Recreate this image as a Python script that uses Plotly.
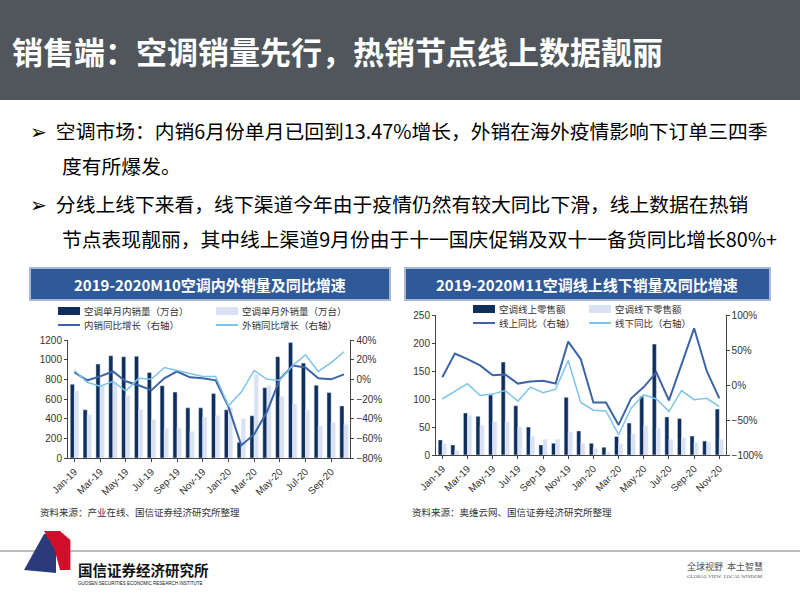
import plotly.graph_objects as go

months_l = ['Jan-19', 'Feb-19', 'Mar-19', 'Apr-19', 'May-19', 'Jun-19', 'Jul-19', 'Aug-19', 'Sep-19', 'Oct-19', 'Nov-19', 'Dec-19',
            'Jan-20', 'Feb-20', 'Mar-20', 'Apr-20', 'May-20', 'Jun-20', 'Jul-20', 'Aug-20', 'Sep-20', 'Oct-20']
dom_sales = [750, 490, 955, 1040, 1030, 1035, 870, 735, 670, 510, 510, 655, 490, 160, 430, 715, 1030, 1175, 965, 740, 665, 530]
exp_sales = [680, 440, 740, 760, 635, 490, 390, 300, 305, 270, 415, 430, 510, 400, 850, 735, 625, 550, 485, 325, 360, 340]
dom_yoy = [7, -1, 3, 8, -2, -6, -11, 1, 8, 2, 1, -1, -28, -67, -56, -33, 0, 14, 12, 1, 0, 5]
exp_yoy = [9, -3, -7, -2, -12, 1, 0, 12, 9, 6, 3, 3, -27, -13, 9, 0, -1, 14, 25, 8, 17, 28]

months_r = months_l + ['Nov-20']
online = [27, 18, 75, 69, 107, 166, 88, 50, 18, 21, 103, 43, 21, 14, 33, 57, 105, 198, 68, 65, 34, 25, 82]
offline = [20, 8, 70, 53, 59, 59, 50, 33, 28, 28, 41, 21, 12, 5, 20, 37, 52, 48, 28, 31, 22, 23, 28]
online_yoy = [11, 45, 37, 28, 14, 15, 2, 5, 6, 2, 62, 37, -25, -25, -57, -19, -3, 18, -22, 30, 81, 20, -19]
offline_yoy = [-20, -9, 2, -15, -13, -8, -23, -3, -11, -6, 35, -25, -36, -37, -71, -33, -14, -20, -38, -8, -21, -19, -31]

legend_l = ['空调单月内销量（万台）', '空调单月外销量（万台）', '内销同比增长（右轴）', '外销同比增长（右轴）']
legend_r = ['空调线上零售额', '空调线下零售额', '线上同比（右轴）', '线下同比（右轴）']

FONT = 'Noto Sans CJK SC'
DARK = '#0E2E5C'
LIGHT = '#D9E1F2'
LINE1 = '#3C64A8'
LINE2 = '#7CC4E8'

fig = go.Figure()
fig.add_trace(go.Bar(x=months_l, y=dom_sales, marker_color=DARK, xaxis='x', yaxis='y'))
fig.add_trace(go.Bar(x=months_l, y=exp_sales, marker_color=LIGHT, xaxis='x', yaxis='y'))
fig.add_trace(go.Scatter(x=months_l, y=dom_yoy, mode='lines', line=dict(color=LINE1, width=2), xaxis='x', yaxis='y2'))
fig.add_trace(go.Scatter(x=months_l, y=exp_yoy, mode='lines', line=dict(color=LINE2, width=1.5), xaxis='x', yaxis='y2'))
fig.add_trace(go.Bar(x=months_r, y=online, marker_color=DARK, xaxis='x2', yaxis='y3'))
fig.add_trace(go.Bar(x=months_r, y=offline, marker_color=LIGHT, xaxis='x2', yaxis='y3'))
fig.add_trace(go.Scatter(x=months_r, y=online_yoy, mode='lines', line=dict(color=LINE1, width=2), xaxis='x2', yaxis='y4'))
fig.add_trace(go.Scatter(x=months_r, y=offline_yoy, mode='lines', line=dict(color=LINE2, width=1.5), xaxis='x2', yaxis='y4'))

tick = dict(size=10, color='#333', family='Liberation Sans')
xcommon = dict(type='category', tickangle=-45, tickfont=tick, showline=True, linecolor='#444', ticks='outside', ticklen=3, dtick=2, showgrid=False)
ycommon = dict(tickfont=tick, showline=True, linecolor='#444', ticks='outside', ticklen=3, showgrid=False, zeroline=False)

fig.update_layout(
    width=800, height=600, margin=dict(l=0, r=0, t=0, b=0, autoexpand=False),
    paper_bgcolor='white', plot_bgcolor='white', barmode='group', bargap=0.35, bargroupgap=0,
    font=dict(family=FONT), showlegend=False,
    xaxis=dict(domain=[0.085, 0.438], anchor='y', **xcommon),
    yaxis=dict(domain=[1 - 458 / 600, 1 - 340 / 600], anchor='x', range=[0, 1200], dtick=200, **ycommon),
    yaxis2=dict(overlaying='y', side='right', anchor='x', range=[-80, 40], dtick=20, ticksuffix='%', **ycommon),
    xaxis2=dict(domain=[0.545, 0.907], anchor='y3', **xcommon),
    yaxis3=dict(domain=[1 - 455 / 600, 1 - 315 / 600], anchor='x2', range=[0, 250], dtick=50, **ycommon),
    yaxis4=dict(overlaying='y3', side='right', anchor='x2', range=[-100, 100], dtick=50, ticksuffix='%', **ycommon),
)

shapes = [
    dict(type='rect', xref='paper', yref='paper', x0=0, x1=1, y0=1 - 100 / 600, y1=1, fillcolor='#50565C', line_width=0),
    dict(type='rect', xref='paper', yref='paper', x0=30 / 800, x1=390 / 800, y0=1 - 300 / 600, y1=1 - 268 / 600,
         fillcolor='#2F5A9A', line=dict(color='#A9B8D0', width=2)),
    dict(type='rect', xref='paper', yref='paper', x0=405 / 800, x1=770 / 800, y0=1 - 300 / 600, y1=1 - 268 / 600,
         fillcolor='#2F5A9A', line=dict(color='#A9B8D0', width=2)),
    dict(type='line', xref='paper', yref='paper', x0=0, x1=1, y0=1 - 551 / 600, y1=1 - 551 / 600, line=dict(color='#BBBBBB', width=2)),
    dict(type='path', xref='paper', yref='paper', path='M 0.03 0.05 L 0.055 0.11 L 0.07 0.11 L 0.07 0.045 Z', fillcolor='#2B3A7A', line_width=0),
    dict(type='path', xref='paper', yref='paper', path='M 0.055 0.115 L 0.068 0.085 L 0.075 0.05 L 0.088 0.05 L 0.088 0.1 L 0.075 0.115 Z', fillcolor='#D0102A', line_width=0),
]

def txt(x, y, s, size, color='#000', bold=False, anchor='left', family=FONT):
    fig.add_annotation(x=x / 800, y=1 - y / 600, xref='paper', yref='paper', text=f'<b>{s}</b>' if bold else s,
                       showarrow=False, xanchor=anchor, yanchor='middle', font=dict(size=size, color=color, family=family))

def legend(x0, y0, colw, labels):
    kinds = ['bar', 'bar', 'line', 'line']
    colors = [DARK, LIGHT, LINE1, LINE2]
    for i, lab in enumerate(labels):
        x = x0 + (i % 2) * colw
        y = y0 + (i // 2) * 14
        if kinds[i] == 'bar':
            shapes.append(dict(type='rect', xref='paper', yref='paper', x0=x / 800, x1=(x + 22) / 800,
                               y0=1 - (y + 4) / 600, y1=1 - (y - 4) / 600, fillcolor=colors[i], line_width=0))
        else:
            shapes.append(dict(type='line', xref='paper', yref='paper', x0=x / 800, x1=(x + 22) / 800,
                               y0=1 - y / 600, y1=1 - y / 600, line=dict(color=colors[i], width=2)))
        fig.add_annotation(x=(x + 25) / 800, y=1 - y / 600, xref='paper', yref='paper', text=lab, showarrow=False,
                           xanchor='left', yanchor='middle', borderpad=0, height=12,
                           font=dict(size=9.5, color='#333', family=FONT))

legend(58, 311, 158, legend_l)
legend(473, 309, 116, legend_r)
fig.update_layout(shapes=shapes)

txt(10, 50, '销售端：空调销量先行，热销节点线上数据靓丽', 31, 'white', True)
txt(28, 131, '➢  空调市场：内销6月份单月已回到13.47%增长，外销在海外疫情影响下订单三四季', 19.8)
txt(60, 166, '度有所爆发。', 19.8)
txt(28, 203, '➢  分线上线下来看，线下渠道今年由于疫情仍然有较大同比下滑，线上数据在热销', 19.8)
txt(60, 238, '节点表现靓丽，其中线上渠道9月份由于十一国庆促销及双十一备货同比增长80%+', 19.8)
txt(210, 284, '2019-2020M10空调内外销量及同比增速', 15, 'white', True, 'center')
txt(587, 284, '2019-2020M11空调线上线下销量及同比增速', 15, 'white', True, 'center')
txt(38, 512, '资料来源：产业在线、国信证券经济研究所整理', 9.5, '#333')
txt(410, 512, '资料来源：奥维云网、国信证券经济研究所整理', 9.5, '#333')
txt(76, 569, '国信证券经济研究所', 14.5, '#111', True)
txt(76, 583, 'GUOSEN SECURITIES ECONOMIC RESEARCH INSTITUTE', 4.5, '#111', False, 'left', 'Liberation Sans')
txt(725, 566, '全球视野  本土智慧', 9, '#555', False, 'center')
txt(725, 576, 'GLOBAL VIEW  LOCAL WISDOM', 5, '#555', False, 'center', 'Liberation Serif')

fig.write_html('out.html', config={'displayModeBar': False}, post_script="document.body.style.margin='0';")
